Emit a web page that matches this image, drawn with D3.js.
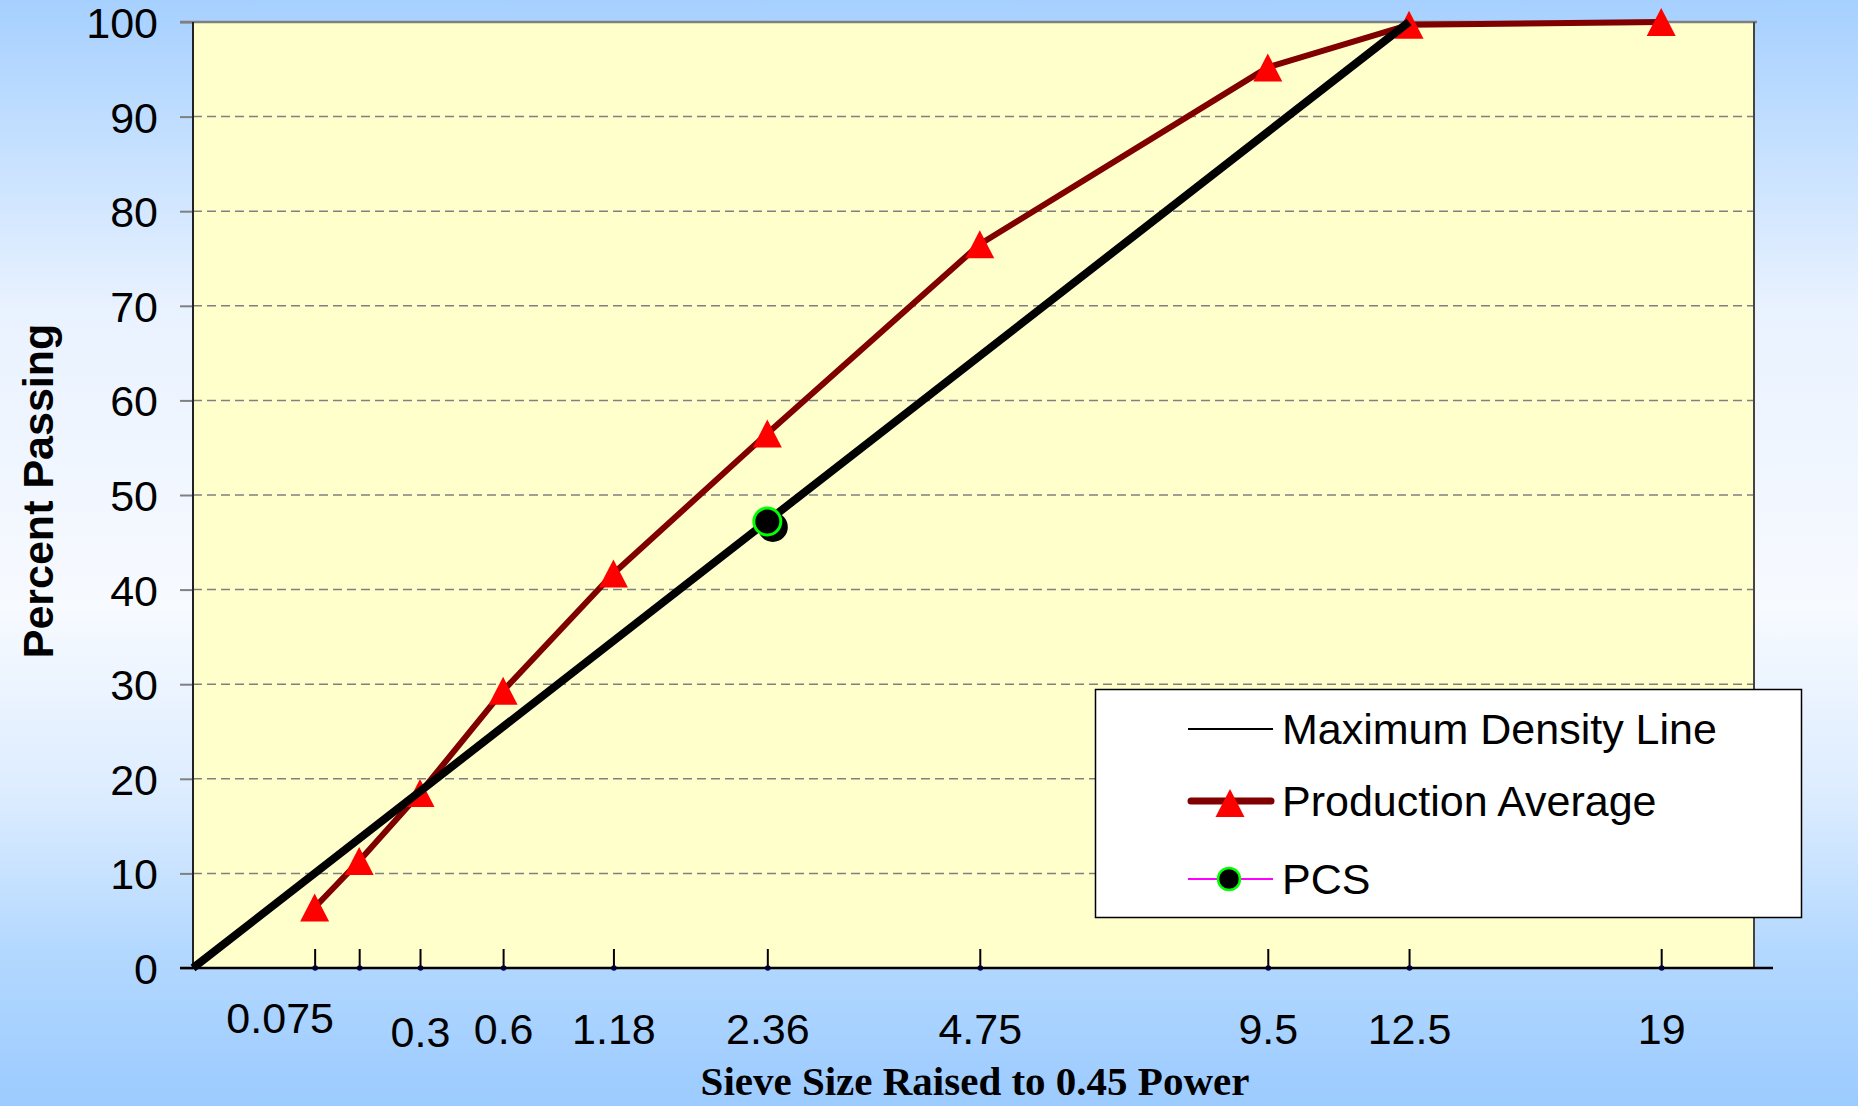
<!DOCTYPE html>
<html>
<head>
<meta charset="utf-8">
<script src="https://cdn.jsdelivr.net/npm/d3@7/dist/d3.min.js"></script>
<style>
  html, body { margin: 0; padding: 0; overflow: hidden; }
  svg { display: block; }
</style>
</head>
<body>
<svg id="chart"></svg>
<script>
// sieve sizes (mm) and percent passing
var sieves      = [ 0.075, 0.15, 0.3, 0.6, 1.18, 2.36, 4.75, 9.5, 12.5, 19 ];
var sieveLabels = [ '0.075', '', '0.3', '0.6', '1.18', '2.36', '4.75', '9.5', '12.5', '19' ];
var prodAvg     = [ 6.4, 11.3, 18.5, 29.3, 41.7, 56.5, 76.5, 95.2, 99.7, 100 ];

// maximum density line (origin to nominal max size)
var mdlSizes    = [ 0, 12.5 ];
var mdlPassing  = [ 0, 100 ];

// PCS control point
var pcsSizes    = [ 2.36 ];
var pcsPassing  = [ 47.2 ];

var yTicks      = [ 0, 10, 20, 30, 40, 50, 60, 70, 80, 90, 100 ];
var legendNames = [ 'Maximum Density Line', 'Production Average', 'PCS' ];

// chart dimensions
var W = 1858, H = 1106;
var plot = { left: 193, right: 1754, top: 22, bottom: 968 };

var sans  = '"Liberation Sans", Arial, sans-serif',
	serif = '"Liberation Serif", "Times New Roman", serif';

// x is sieve size raised to the 0.45 power, axis runs 0..4
var xScale = d3.scalePow()
			   .exponent( 0.45 )
			   .domain( [ 0, Math.pow( 4, 1 / 0.45 ) ] )
			   .range( [ plot.left, plot.right ] );

var yScale = d3.scaleLinear()
			   .domain( [ 0, 100 ] )
			   .range( [ plot.bottom, plot.top ] );

var svg = d3.select( '#chart' )
			.attr( 'width', W )
			.attr( 'height', H );

// background gradient
var defs = svg.append( 'defs' );
var grad = defs.append( 'linearGradient' )
			   .attr( 'id', 'bg' )
			   .attr( 'x1', 0 ).attr( 'y1', 0 )
			   .attr( 'x2', 0 ).attr( 'y2', 1 );
[ [ 0, '#a6d0ff' ], [ 0.1, '#bddcff' ], [ 0.28, '#e9f2ff' ], [ 0.55, '#f7faff' ],
  [ 0.72, '#dcecff' ], [ 0.86, '#b3d8ff' ], [ 1, '#9ccbff' ] ].forEach( function( s ) {
	grad.append( 'stop' ).attr( 'offset', s[ 0 ] ).attr( 'stop-color', s[ 1 ] );
});

svg.append( 'rect' )
   .attr( 'width', W ).attr( 'height', H )
   .attr( 'fill', 'url(#bg)' );

// plot area
svg.append( 'rect' )
   .attr( 'x', plot.left ).attr( 'y', plot.top )
   .attr( 'width', plot.right - plot.left )
   .attr( 'height', plot.bottom - plot.top )
   .attr( 'fill', '#ffffcc' );

// gridlines
svg.append( 'g' )
   .selectAll( 'line' )
   .data( yTicks.filter( function( d ) { return d > 0 && d < 100; } ) )
   .enter()
   .append( 'line' )
	   .attr( 'x1', plot.left ).attr( 'x2', plot.right )
	   .attr( 'y1', function( d ) { return yScale( d ); } )
	   .attr( 'y2', function( d ) { return yScale( d ); } )
	   .attr( 'stroke', '#808080' )
	   .attr( 'stroke-width', 1.5 )
	   .attr( 'stroke-dasharray', '9,5' );

// y axis
var yAxis = d3.axisLeft( yScale )
			  .tickValues( yTicks )
			  .tickSize( 13 )
			  .tickPadding( 22 );

var yG = svg.append( 'g' )
			.attr( 'transform', 'translate(' + plot.left + ',0)' )
			.call( yAxis );
yG.select( '.domain' ).remove();
yG.selectAll( '.tick line' ).attr( 'stroke', '#808080' ).attr( 'stroke-width', 2 );
yG.selectAll( '.tick text' )
  .attr( 'font-family', sans )
  .attr( 'font-size', 43 )
  .attr( 'fill', '#000' )
  .attr( 'dy', '0.36em' );

// plot borders
svg.append( 'line' )
   .attr( 'x1', 180 ).attr( 'x2', plot.right + 3 )
   .attr( 'y1', plot.top ).attr( 'y2', plot.top )
   .attr( 'stroke', '#808080' ).attr( 'stroke-width', 2.5 );
svg.append( 'line' )
   .attr( 'x1', plot.left ).attr( 'x2', plot.left )
   .attr( 'y1', plot.top ).attr( 'y2', plot.bottom )
   .attr( 'stroke', '#222' ).attr( 'stroke-width', 2 );
svg.append( 'line' )
   .attr( 'x1', plot.right ).attr( 'x2', plot.right )
   .attr( 'y1', plot.top ).attr( 'y2', plot.bottom )
   .attr( 'stroke', '#444' ).attr( 'stroke-width', 2 );

// x axis
var labelNudge = { '0.075': [ -35, -11 ], '0.3': [ 0, 3 ] };

var xAxis = d3.axisBottom( xScale )
			  .tickValues( sieves )
			  .tickSize( 0 )
			  .tickFormat( function( d, i ) { return sieveLabels[ i ]; } );

var xG = svg.append( 'g' )
			.attr( 'transform', 'translate(0,' + plot.bottom + ')' )
			.call( xAxis );
xG.select( '.domain' ).remove();

xG.selectAll( '.tick text' )
  .attr( 'font-family', sans )
  .attr( 'font-size', 43 )
  .attr( 'fill', '#000' )
  .attr( 'dy', 0 )
  .attr( 'y', function( d, i ) {
	  var n = labelNudge[ sieveLabels[ i ] ];
	  return 76 + ( n ? n[ 1 ] : 0 );
  })
  .attr( 'x', function( d, i ) {
	  var n = labelNudge[ sieveLabels[ i ] ];
	  return n ? n[ 0 ] : 0;
  });

xG.selectAll( '.tick' )
  .append( 'line' )
	  .attr( 'y1', 0 ).attr( 'y2', -19 )
	  .attr( 'stroke', '#000' ).attr( 'stroke-width', 2 );

svg.append( 'line' )
   .attr( 'x1', 180 ).attr( 'x2', 1773 )
   .attr( 'y1', plot.bottom ).attr( 'y2', plot.bottom )
   .attr( 'stroke', '#000' ).attr( 'stroke-width', 2.5 );

xG.selectAll( '.tick' )
  .append( 'circle' )
	  .attr( 'r', 2.8 )
	  .attr( 'fill', '#000080' );

// axis titles
svg.append( 'text' )
   .attr( 'transform', 'translate(53,' + 491 + ') rotate(-90)' )
   .attr( 'text-anchor', 'middle' )
   .attr( 'font-family', sans )
   .attr( 'font-weight', 'bold' )
   .attr( 'font-size', 43 )
   .text( 'Percent Passing' );

svg.append( 'text' )
   .attr( 'x', 975 ).attr( 'y', 1095 )
   .attr( 'text-anchor', 'middle' )
   .attr( 'font-family', serif )
   .attr( 'font-weight', 'bold' )
   .attr( 'font-size', 41 )
   .text( 'Sieve Size Raised to 0.45 Power' );

var line = d3.line()
			 .x( function( d ) { return xScale( d[ 0 ] ); } )
			 .y( function( d ) { return yScale( d[ 1 ] ); } );

function triangle( w, h ) {
	return 'M0,' + ( -h / 2 ) + 'L' + ( w / 2 ) + ',' + ( h / 2 ) + 'L' + ( -w / 2 ) + ',' + ( h / 2 ) + 'Z';
}

// production average
svg.append( 'path' )
   .datum( d3.zip( sieves, prodAvg ) )
   .attr( 'd', line )
   .attr( 'fill', 'none' )
   .attr( 'stroke', '#800000' )
   .attr( 'stroke-width', 6 )
   .attr( 'stroke-linejoin', 'round' );

svg.append( 'g' )
   .selectAll( 'path' )
   .data( d3.zip( sieves, prodAvg ) )
   .enter()
   .append( 'path' )
	   .attr( 'd', triangle( 29, 28 ) )
	   .attr( 'transform', function( d ) {
		   return 'translate(' + xScale( d[ 0 ] ) + ',' + yScale( d[ 1 ] ) + ')';
	   })
	   .attr( 'fill', '#ff0000' );

// maximum density line
svg.append( 'path' )
   .datum( d3.zip( mdlSizes, mdlPassing ) )
   .attr( 'd', line )
   .attr( 'fill', 'none' )
   .attr( 'stroke', '#000' )
   .attr( 'stroke-width', 8 );

// PCS point with marker shadow
var pcs = svg.append( 'g' )
			 .selectAll( 'g' )
			 .data( d3.zip( pcsSizes, pcsPassing ) )
			 .enter()
			 .append( 'g' )
			 .attr( 'transform', function( d ) {
				 return 'translate(' + xScale( d[ 0 ] ) + ',' + yScale( d[ 1 ] ) + ')';
			 });
pcs.append( 'circle' )
   .attr( 'cx', 5.5 ).attr( 'cy', 5.5 )
   .attr( 'r', 15 )
   .attr( 'fill', '#000' );
pcs.append( 'circle' )
   .attr( 'r', 13.5 )
   .attr( 'fill', '#000' )
   .attr( 'stroke', '#00ff00' )
   .attr( 'stroke-width', 3 );

// legend
var legend = svg.append( 'g' );
legend.append( 'rect' )
	  .attr( 'x', 1095.5 ).attr( 'y', 689.5 )
	  .attr( 'width', 706 ).attr( 'height', 228 )
	  .attr( 'fill', '#fff' )
	  .attr( 'stroke', '#000' )
	  .attr( 'stroke-width', 1.5 );

var rowY = [ 729, 801, 879 ];

var rows = legend.selectAll( '.row' )
				 .data( legendNames )
				 .enter()
				 .append( 'g' )
				 .attr( 'class', 'row' )
				 .attr( 'transform', function( d, i ) { return 'translate(0,' + rowY[ i ] + ')'; } );

rows.append( 'text' )
	.attr( 'x', 1282 )
	.attr( 'y', 0 )
	.attr( 'dy', '0.36em' )
	.attr( 'font-family', sans )
	.attr( 'font-size', 43 )
	.text( function( d ) { return d; } );

var r0 = d3.select( rows.nodes()[ 0 ] ),
	r1 = d3.select( rows.nodes()[ 1 ] ),
	r2 = d3.select( rows.nodes()[ 2 ] );

r0.append( 'line' )
  .attr( 'x1', 1188 ).attr( 'x2', 1273 )
  .attr( 'stroke', '#000' ).attr( 'stroke-width', 2 );

r1.append( 'line' )
  .attr( 'x1', 1191 ).attr( 'x2', 1271 )
  .attr( 'stroke', '#800000' ).attr( 'stroke-width', 7 )
  .attr( 'stroke-linecap', 'round' );
r1.append( 'path' )
  .attr( 'd', triangle( 29, 28 ) )
  .attr( 'transform', 'translate(1230,2)' )
  .attr( 'fill', '#ff0000' );

r2.append( 'line' )
  .attr( 'x1', 1188 ).attr( 'x2', 1273 )
  .attr( 'stroke', '#ff00ff' ).attr( 'stroke-width', 2 );
r2.append( 'circle' )
  .attr( 'cx', 1229 )
  .attr( 'r', 11 )
  .attr( 'fill', '#000' )
  .attr( 'stroke', '#00ff00' )
  .attr( 'stroke-width', 2.5 );
</script>
</body>
</html>
